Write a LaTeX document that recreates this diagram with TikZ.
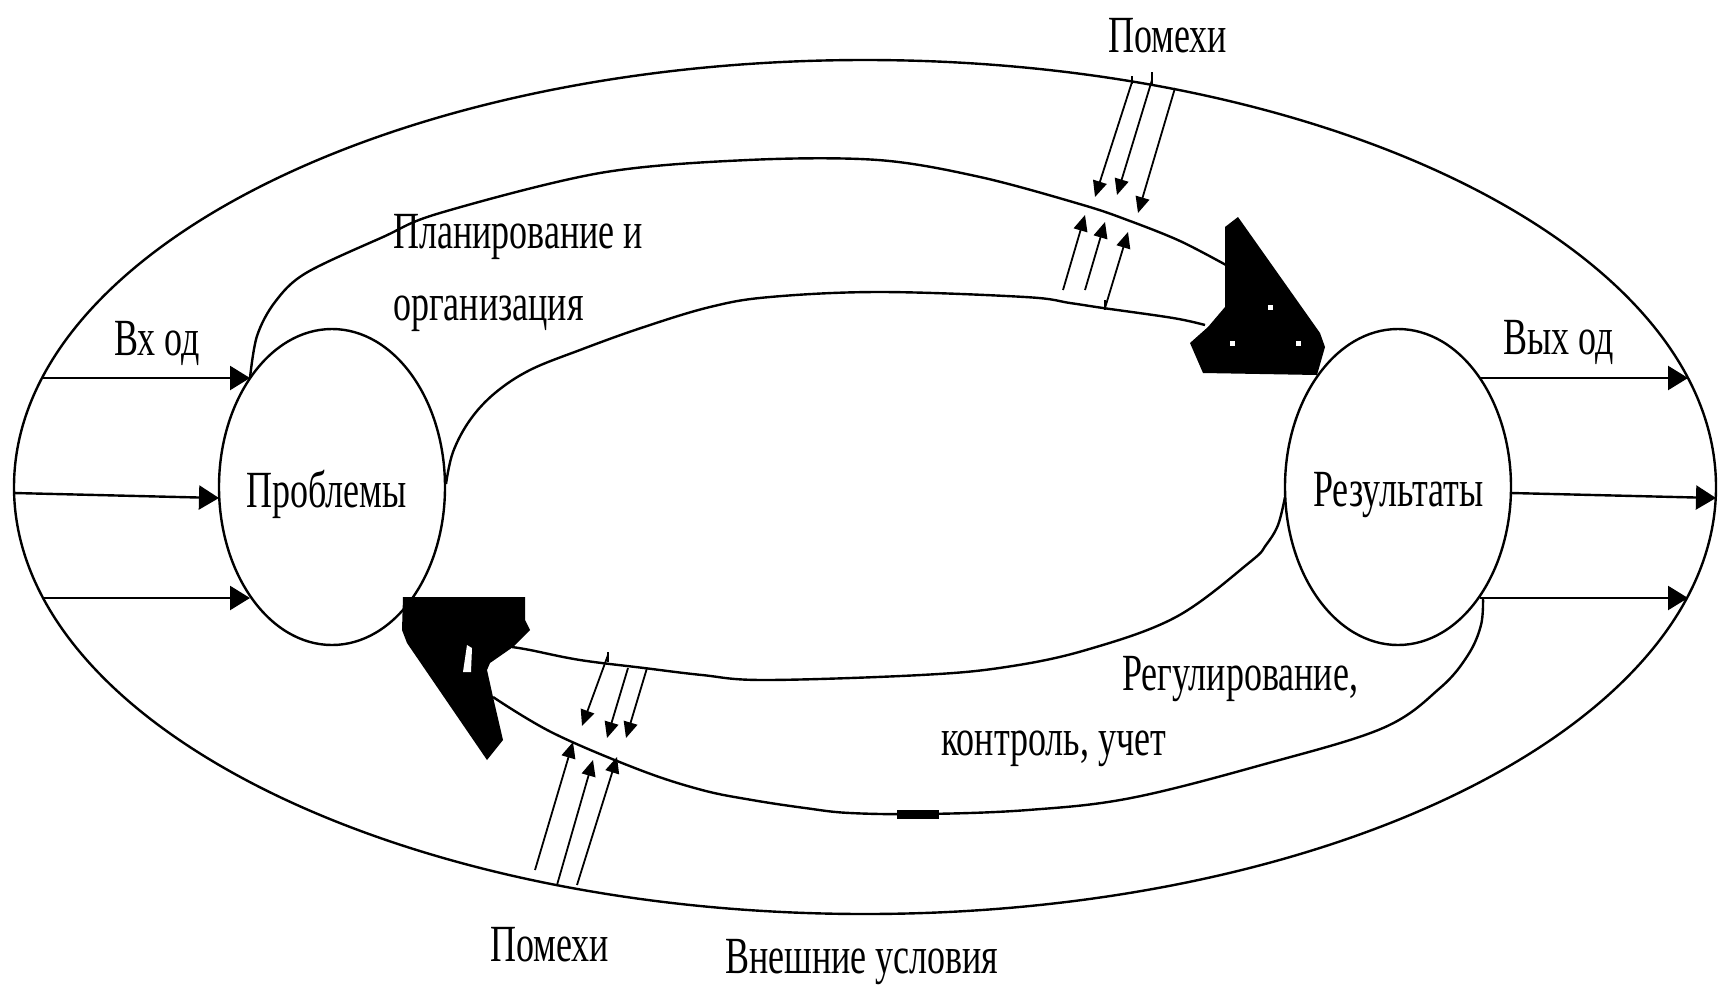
\documentclass[tikz,border=0pt]{standalone}
\usepackage{fontspec}
\setmainfont{Liberation Serif}
\usepackage{graphicx}
\usetikzlibrary{arrows.meta,shapes.geometric}
\newcommand\talltext[1]{\scalebox{1}[1.45]{#1}}
\tikzset{
  lbl/.style={anchor=base west, inner sep=0pt, font=\fontsize{36}{40}\selectfont},
  bigarrow/.style={-{Triangle[length=20pt,width=24pt]}},
  smallarrow/.style={-{Triangle[length=16pt,width=14pt]}, line width=1.8pt},
  loopline/.style={line width=2.4pt},
  blob/.style={fill=black},
  ring/.style={draw, ellipse, inner sep=0pt, line width=2.4pt},
}
\begin{document}
\begin{tikzpicture}[x=1pt,y=-1pt, line width=2.4pt, line join=round]
\useasboundingbox (0,0) rectangle (1727,994);
\fill[white] (0,0) rectangle (1727,994);

% outer ellipse and the two circles
\node[ring, minimum width=1702pt, minimum height=854pt] (outer) at (865,487) {};
\node[ring, minimum width=226pt, minimum height=316pt] (prob) at (332,487) {};
\node[ring, minimum width=226pt, minimum height=316pt] (res) at (1398,487) {};

% input arrows
\coordinate (i1s) at (42,378);  \coordinate (i1e) at (250,378);
\coordinate (i2s) at (14,493);  \coordinate (i2e) at (219,498);
\coordinate (i3s) at (42,598);  \coordinate (i3e) at (250,598);
\draw[bigarrow] (i1s) -- (i1e);
\draw[bigarrow] (i2s) -- (i2e);
\draw[bigarrow] (i3s) -- (i3e);

% output arrows
\coordinate (o1s) at (1480,378); \coordinate (o1e) at (1688,378);
\coordinate (o2s) at (1511,493); \coordinate (o2e) at (1716,498);
\coordinate (o3s) at (1480,598); \coordinate (o3e) at (1688,598);
\draw[bigarrow] (o1s) -- (o1e);
\draw[bigarrow] (o2s) -- (o2e);
\draw[bigarrow] (o3s) -- (o3e);

% upper channel: planning and organisation
\draw[loopline] plot[smooth, tension=0.55] coordinates {(250,378) (257,336) (275,302) (306,273) (383,237) (440,213) (600,173) (748,160) (878,160) (980,177) (1083,205) (1130,221) (1180,241) (1226,265)};
\draw[loopline] plot[smooth, tension=0.6] coordinates {(446,484) (453,452) (470,420) (495,393) (530,370) (580,350) (641,328) (710,307) (770,297) (880,292) (1025,297) (1070,303) (1103,308) (1173,318) (1205,325)};

% lower channel: regulation, control, accounting
\draw[loopline] plot[smooth, tension=0.6] coordinates {(1285,497) (1278,525) (1266,545) (1250,562) (1176,617) (1086,650) (1006,667) (921,675) (765,680) (702,675) (644,668) (580,660) (530,650) (512,647)};
\draw[loopline] plot[smooth, tension=0.6] coordinates {(1483,598) (1481,625) (1468,655) (1440,688) (1383,728) (1265,764) (1131,798) (1028,810) (926,814) (850,813) (805,808) (752,800) (702,790) (640,770) (553,733) (493,697)};
\fill (897,810) rectangle (939,819);

% black arrow heads
\fill[blob] (1238,217) -- (1225,227) -- (1225,307) -- (1208,327) -- (1190,343) -- (1203,373) -- (1317,375) -- (1325,347) -- (1320,333) -- cycle;
\fill[white] (1268,305) rectangle (1273,310);
\fill[white] (1230,341) rectangle (1235,346);
\fill[white] (1296,341) rectangle (1301,346);
\fill[blob] (403,597) -- (525,597) -- (525,620) -- (530,630) -- (513,647) -- (490,663) -- (487,670) -- (493,697) -- (503,740) -- (487,760) -- (407,643) -- (402,630) -- cycle;
\fill[white] (463,672) -- (467,645) -- (472,648) -- (471,672) -- cycle;

% interference, top
\draw[smallarrow] (1132,82) -- (1095,197);
\draw[smallarrow] (1152,80) -- (1117,195);
\draw[smallarrow] (1175,88) -- (1138,213);
\draw[smallarrow] (1063,290) -- (1085,215);
\draw[smallarrow] (1085,290) -- (1105,222);
\draw[smallarrow] (1105,308) -- (1128,232);
\draw[line width=1.6pt] (1132,76) -- (1132,84) (1152,72) -- (1152,84) (1105,300) -- (1105,310);

% interference, bottom
\draw[smallarrow] (608,655) -- (582,726);
\draw[smallarrow] (628,668) -- (607,738);
\draw[smallarrow] (647,668) -- (626,738);
\draw[smallarrow] (535,870) -- (573,742);
\draw[smallarrow] (557,885) -- (593,760);
\draw[smallarrow] (577,885) -- (617,757);
\draw[line width=1.6pt] (608,652) -- (608,662);

% labels
\node[lbl] (tvhod) at (113,355) {\talltext{Вх од}};
\node[lbl] (tprob) at (245,507) {\talltext{Проблемы}};
\node[lbl] (tres) at (1312,506) {\talltext{Результаты}};
\node[lbl] (tvyhod) at (1502,354) {\talltext{Вых од}};
\node[lbl] (tplan1) at (392,248) {\talltext{Планирование и}};
\node[lbl] (tplan2) at (392,320) {\talltext{организация}};
\node[lbl] (treg1) at (1121,690) {\talltext{Регулирование,}};
\node[lbl] (treg2) at (940,755) {\talltext{контроль, учет}};
\node[lbl] (tpom1) at (1107,52) {\talltext{Помехи}};
\node[lbl] (tpom2) at (489,961) {\talltext{Помехи}};
\node[lbl] (tvnesh) at (724,973) {\talltext{Внешние условия}};
\end{tikzpicture}
\end{document}
